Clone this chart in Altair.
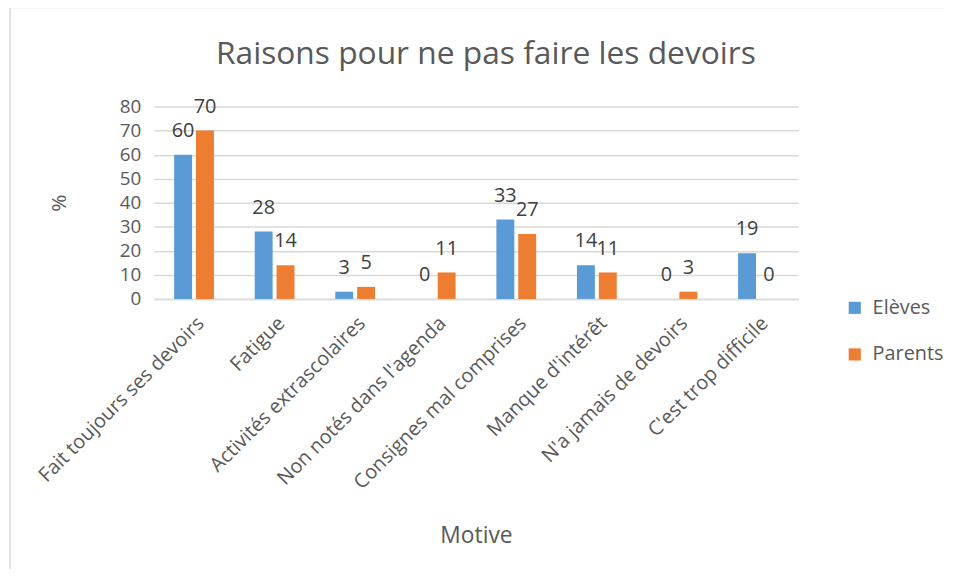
import altair as alt
import pandas as pd

categories = [
    "Fait toujours ses devoirs",
    "Fatigue",
    "Activités extrascolaires",
    "Non notés dans l'agenda",
    "Consignes mal comprises",
    "Manque d'intérêt",
    "N'a jamais de devoirs",
    "C'est trop difficile",
]
series = ["Elèves", "Parents"]
eleves = [60, 28, 3, 0, 33, 14, 0, 19]
parents = [70, 14, 5, 11, 27, 11, 3, 0]
colors = ["#5B9BD5", "#ED7D31"]
y_ticks = [0, 10, 20, 30, 40, 50, 60, 70, 80]

rows = []
for c, e, p in zip(categories, eleves, parents):
    rows.append({"Motive": c, "Groupe": series[0], "Valeur": e})
    rows.append({"Motive": c, "Groupe": series[1], "Valeur": p})
df = pd.DataFrame(rows)

FONT = "Open Sans"
TXT = "#595959"

x_enc = alt.X(
    "Motive:N",
    sort=categories,
    scale=alt.Scale(paddingInner=0.506, paddingOuter=0.253),
    axis=alt.Axis(
        title="Motive",
        labelAngle=-45,
        labelAlign="right",
        labelBaseline="top",
        labelFontSize=20,
        labelColor=TXT,
        labelFont=FONT,
        labelPadding=14,
        labelLimit=400,
        ticks=False,
        domainColor="#D9D9D9",
        domainWidth=1.5,
        titleFontSize=23,
        titleFont=FONT,
        titleColor=TXT,
        titleFontWeight="normal",
        titleBaseline="middle",
        titleY=239,
    ),
)
y_enc = alt.Y(
    "Valeur:Q",
    scale=alt.Scale(domain=[0, 80], nice=False),
    axis=alt.Axis(
        title="%",
        values=y_ticks,
        domain=False,
        ticks=False,
        labelFontSize=19,
        labelFont=FONT,
        labelColor=TXT,
        labelPadding=13,
        gridColor="#D9D9D9",
        gridWidth=1.5,
        titleFontSize=21,
        titleFont=FONT,
        titleColor=TXT,
        titleFontWeight="normal",
        titleX=-95,
        titleY=97,
        titleBaseline="middle",
    ),
)
xoff = alt.XOffset("Groupe:N", sort=series, scale=alt.Scale(paddingInner=0.18))
color = alt.Color(
    "Groupe:N",
    sort=series,
    scale=alt.Scale(domain=series, range=colors),
    legend=alt.Legend(
        title=None,
        orient="none",
        legendX=697,
        legendY=193,
        symbolType="square",
        symbolSize=150,
        symbolStrokeWidth=0,
        labelFontSize=20,
        labelFont=FONT,
        labelColor=TXT,
        rowPadding=27,
        labelOffset=8,
    ),
)

base = alt.Chart(df)
bars = base.mark_bar().encode(x=x_enc, y=y_enc, xOffset=xoff, color=color)
labels = base.mark_text(
    baseline="alphabetic", dy=-18, fontSize=20, font=FONT, color="#404040"
).encode(x=x_enc, y=y_enc, xOffset=xoff, text=alt.Text("Valeur:Q"))

frame = alt.Chart(pd.DataFrame({"a": [0]})).mark_rect(
    fill=None, stroke="#D9D9D9", strokeWidth=1.5
).encode(
    x=alt.value(-145), x2=alt.value(830), y=alt.value(-100), y2=alt.value(472)
)

chart = (
    alt.layer(frame, bars, labels)
    .properties(
        width=650,
        height=194,
        autosize=alt.AutoSizeParams(type="none"),
        padding={"left": 147, "top": 97, "right": 148, "bottom": 270},
        title=alt.TitleParams(
            "Raisons pour ne pas faire les devoirs",
            fontSize=32,
            font=FONT,
            color=TXT,
            fontWeight="normal",
            anchor="middle",
            offset=-65,
            dx=10,
        ),
    )
    .configure_view(stroke=None)
    .configure_axisX(grid=False)
)

chart.save("out.html", embed_options={"renderer": "svg", "actions": False})
